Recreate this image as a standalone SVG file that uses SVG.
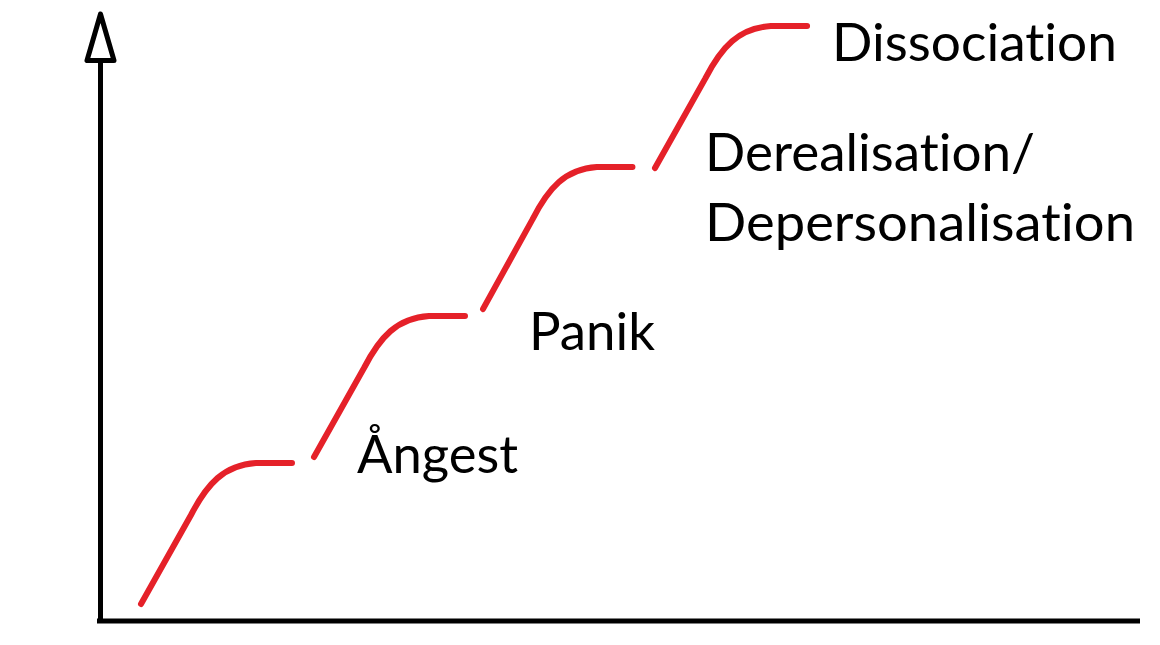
<svg xmlns="http://www.w3.org/2000/svg" width="1160" height="645" viewBox="0 0 1160 645">
<defs>
<style>
.axis{stroke:#000;stroke-width:5;fill:none}
.step{stroke:#e52129;stroke-width:6;fill:none;stroke-linecap:round;stroke-linejoin:round}
.lbl{font-family:Lato,"Open Sans","Noto Sans",sans-serif;font-size:53px;fill:#000;font-variant-ligatures:none;font-feature-settings:"liga" 0,"dlig" 0}
</style>
<path id="stepShape" d="M0,0 L50,-89 C66,-120 83,-139 115,-141 L151,-141"/>
</defs>
<rect width="1160" height="645" fill="#fff"/>
<g id="axes">
<line class="axis" x1="100.5" y1="60" x2="100.5" y2="623"/>
<polygon class="axis" points="100.5,14 87,60.5 114,60.5" stroke-linejoin="round"/>
<line class="axis" x1="97" y1="621" x2="1140" y2="621"/>
</g>
<g id="connectors">
<use href="#stepShape" class="step" transform="translate(141,604)"/>
<use href="#stepShape" class="step" transform="translate(314,457)"/>
<use href="#stepShape" class="step" transform="translate(483,309) scale(0.99,1.007)"/>
<use href="#stepShape" class="step" transform="translate(655,168) scale(1.007,1.007)"/>
</g>
<g id="angest"><text class="lbl" x="357" y="473" textLength="161" lengthAdjust="spacingAndGlyphs">Ångest</text></g>
<g id="panik"><text class="lbl" x="529" y="350" textLength="126" lengthAdjust="spacingAndGlyphs">Panik</text></g>
<g id="derealisation">
<text class="lbl" x="705" y="171" textLength="330" lengthAdjust="spacingAndGlyphs">Derealisation/</text>
<text class="lbl" x="705" y="241" textLength="430" lengthAdjust="spacingAndGlyphs">Depersonalisation</text>
</g>
<g id="dissociation"><text class="lbl" x="832" y="61" textLength="285" lengthAdjust="spacingAndGlyphs">Dissociation</text></g>
</svg>
